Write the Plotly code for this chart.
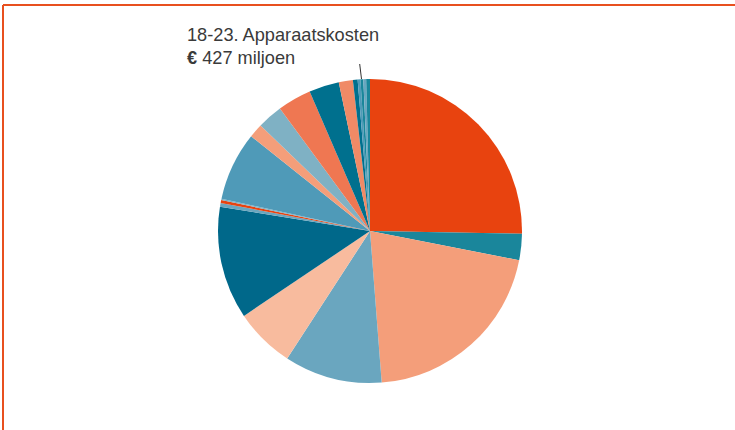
import plotly.graph_objects as go

categories = [f"Onderdeel {i}" for i in range(1, 21)]
categories[16] = "18-23. Apparaatskosten"
shares = [25.3, 2.8, 20.7, 10.4, 6.4, 12.0, 0.4, 0.3, 0.15, 7.3,
          1.5, 2.7, 3.6, 3.2, 1.5, 0.5, 0.3, 0.3, 0.3, 0.4]
colors = ["#E8430F", "#1A869B", "#F49E7A", "#6AA6BF", "#F8BB9E", "#00688A",
          "#6AA6BF", "#E8430F", "#7FB1C4", "#4F9AB8", "#F49E7A", "#7FB1C4",
          "#EF7752", "#00708E", "#F08A66", "#00708E", "#4F9AB8", "#1A869B",
          "#6AA6BF", "#1A869B"]

W, H = 735, 430
cx, cy, r = 370, 231, 152

fig = go.Figure(go.Pie(
    labels=categories, values=shares, sort=False, direction="clockwise",
    rotation=0, textinfo="none", hoverinfo="label+percent",
    marker=dict(colors=colors, line=dict(width=0)),
    domain=dict(x=[(cx - r) / W, (cx + r) / W], y=[(H - cy - r) / H, (H - cy + r) / H]),
    showlegend=False,
))

border = "#E8501F"
fig.add_shape(type="line", xref="paper", yref="paper",
              x0=3 / W, x1=1, y0=1 - 5 / H, y1=1 - 5 / H,
              line=dict(color=border, width=2))
fig.add_shape(type="line", xref="paper", yref="paper",
              x0=3 / W, x1=3 / W, y0=0, y1=1 - 5 / H,
              line=dict(color=border, width=2))
fig.add_shape(type="line", xref="paper", yref="paper",
              x0=359.7 / W, x1=361.5 / W, y0=1 - 64 / H, y1=1 - 79 / H,
              line=dict(color="#333333", width=1))

fig.add_annotation(xref="paper", yref="paper", x=185 / W, y=1 - 35 / H,
                   xanchor="left", yanchor="middle", showarrow=False,
                   text="18-23. Apparaatskosten",
                   font=dict(family="Liberation Sans, Arial", size=18.2, color="#3a3a3a"))
fig.add_annotation(xref="paper", yref="paper", x=185 / W, y=1 - 58 / H,
                   xanchor="left", yanchor="middle", showarrow=False,
                   text="<b>€</b> 427 miljoen",
                   font=dict(family="Liberation Sans, Arial", size=18.2, color="#3a3a3a"))

fig.update_layout(width=W, height=H, margin=dict(l=0, r=0, t=0, b=0),
                  paper_bgcolor="white", plot_bgcolor="white")
fig.write_html("out.html", config={"displayModeBar": False},
               post_script="document.body.style.margin='0';document.body.style.overflow='hidden';")
